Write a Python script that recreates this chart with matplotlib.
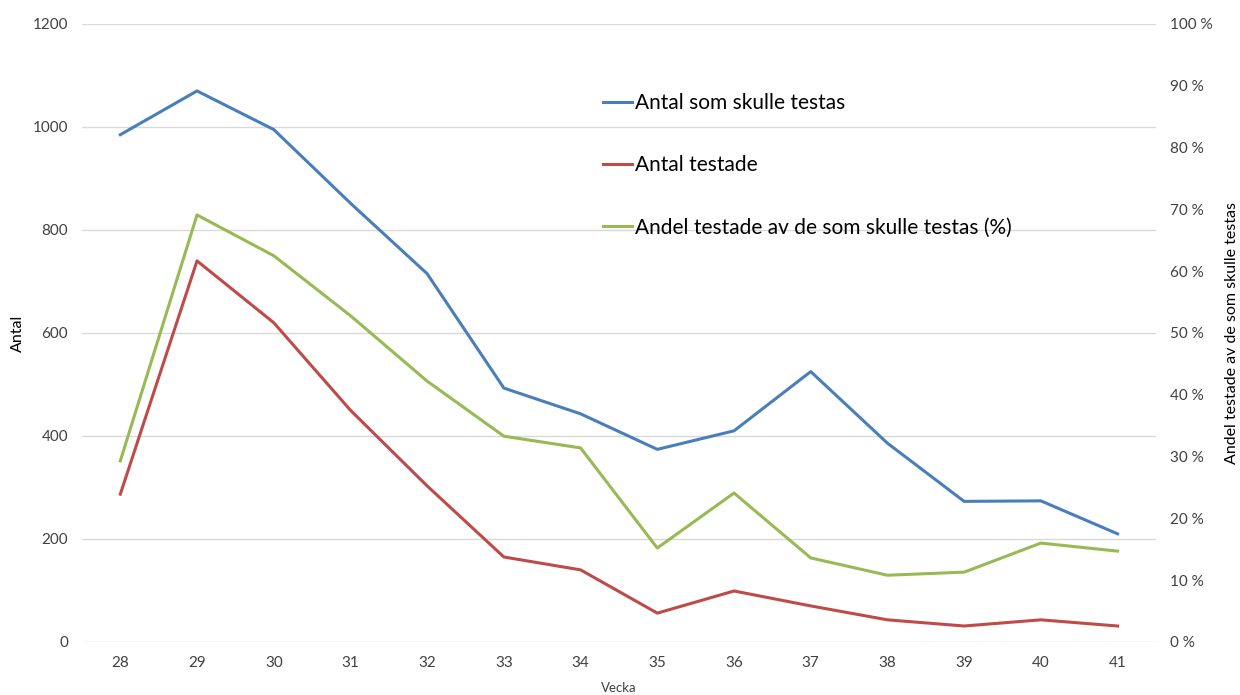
import numpy as np
import matplotlib
matplotlib.use("Agg")
import matplotlib.pyplot as plt
from matplotlib.ticker import FuncFormatter

plt.rcParams['font.family'] = ['Lato', 'DejaVu Sans']

veckor = [28, 29, 30, 31, 32, 33, 34, 35, 36, 37, 38, 39, 40, 41]
skulle_testas = [985, 1070, 995, 852, 715, 493, 443, 374, 410, 525, 386, 273, 274, 210]
testade = [287, 740, 620, 450, 303, 165, 140, 56, 99, 70, 43, 31, 43, 31]
andel = [29.3, 69.1, 62.5, 52.8, 42.2, 33.3, 31.4, 15.2, 24.1, 13.6, 10.8, 11.3, 16.0, 14.7]

blue = '#4a7ebb'
red = '#be4b48'
green = '#98b954'
grid = '#d9d9d9'
txt = '#404040'

fig = plt.figure(figsize=(12.4, 6.95), dpi=100)
ax = fig.add_axes([0.0661, 0.0763, 0.8661, 0.8892])
ax2 = ax.twinx()

l1, = ax.plot(veckor, skulle_testas, color=blue, lw=2.2, label='Antal som skulle testas')
l2, = ax.plot(veckor, testade, color=red, lw=2.2, label='Antal testade')
l3, = ax2.plot(veckor, andel, color=green, lw=2.2, label='Andel testade av de som skulle testas (%)')

ax.set_xlim(27.5, 41.5)
ax.set_ylim(0, 1200)
ax2.set_ylim(0, 100)
ax.set_xticks(veckor)
ax.set_yticks(np.arange(0, 1201, 200))
ax2.set_yticks(np.arange(0, 101, 10))
ax2.yaxis.set_major_formatter(FuncFormatter(lambda v, p: f'{int(v)} %'))

ax.grid(axis='y', color=grid, lw=1)
ax.set_axisbelow(True)
for a in (ax, ax2):
    for s in a.spines.values():
        s.set_visible(False)
    a.tick_params(length=0, labelsize=11, colors=txt)
ax.tick_params(axis='y', pad=10)
ax.tick_params(axis='x', pad=10)
ax2.tick_params(axis='y', pad=10)

ax.set_ylabel('Antal', fontsize=11.5, color='black', va='center')
ax.yaxis.set_label_coords(-0.0596, 0.5)
ax2.set_ylabel('Andel testade av de som skulle testas', fontsize=11.5, color='black', va='center')
ax2.yaxis.set_label_coords(1.0708, 0.5)
ax.set_xlabel('Vecka', fontsize=9.5, color=txt, va='center')
ax.xaxis.set_label_coords(0.5, -0.0744)

fig.legend(handles=[l1, l2, l3], loc='upper left', bbox_to_anchor=(0.4798, 0.878),
           frameon=False, fontsize=15, handlelength=1.4, handletextpad=0.1,
           labelspacing=2.03, borderaxespad=0)

fig.savefig('out.png', dpi=100)
